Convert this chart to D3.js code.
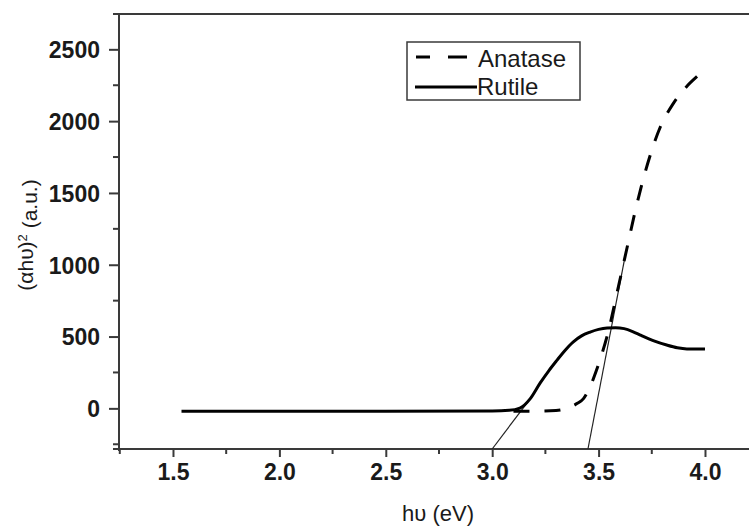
<!DOCTYPE html>
<html>
<head>
<meta charset="utf-8">
<script src="https://cdn.jsdelivr.net/npm/d3@7"></script>
<style>
  html, body { margin: 0; padding: 0; background: #fff; }
  svg { display: block; }
  text { font-family: "Liberation Sans", Arial, sans-serif; fill: #1a1a1a; }
</style>
</head>
<body>
<script>
// ---- data ----
const rutile = [
  [1.54,-20],[2.0,-20],[2.5,-20],[3.0,-18],[3.08,-14],[3.13,2],[3.18,70],[3.225,176],
  [3.265,260],[3.305,336],[3.34,400],[3.38,462],[3.42,505],[3.46,531],[3.50,550],
  [3.54,560],[3.58,562],[3.62,555],[3.66,535],[3.70,508],[3.76,470],[3.82,441],
  [3.87,422],[3.915,414],[4.0,413]
];
const anatase = [
  [3.10,-20],[3.20,-20],[3.30,-15],[3.36,5],[3.40,35],[3.43,70],[3.46,150],[3.49,266],
  [3.52,400],[3.55,560],[3.58,760],[3.61,960],[3.64,1160],[3.67,1360],[3.70,1541],
  [3.74,1750],[3.79,1959],[3.85,2120],[3.91,2235],[3.97,2321],[4.0,2360]
];
const rutileTangent = [[3.0,-283],[3.165,40]];
const anataseTangent = [[3.45,-283],[3.63,1100]];
const xMajor = [1.5,2.0,2.5,3.0,3.5,4.0];
const xMinor = [1.25,1.75,2.25,2.75,3.25,3.75];
const yMajor = [0,500,1000,1500,2000,2500];
const yMinor = [-250,250,750,1250,1750,2250];
const legendLabels = ["Anatase","Rutile"];

// ---- layout ----
const W = 749, H = 527;
const mLeft = 119, mBottom = 449, mTop = 14;
const pxPerX = 212.8;
const x = d3.scaleLinear().domain([1.2463, 4.35]).range([mLeft, mLeft + (4.35-1.2463)*pxPerX]);
const y = d3.scaleLinear().domain([-283, 2746]).range([mBottom, mTop]);

const svg = d3.select("body").append("svg").attr("width", W).attr("height", H);
const axisColor = "#3a3a3a";

// frame top
svg.append("line").attr("x1", mLeft-6).attr("x2", W+20).attr("y1", mTop).attr("y2", mTop)
  .attr("stroke", axisColor).attr("stroke-width", 2);

// x axis
const gx = svg.append("g").attr("transform", `translate(0,${mBottom})`);
gx.call(d3.axisBottom(x).tickValues(xMajor).tickFormat(d3.format(".1f")).tickSize(8).tickSizeOuter(0));
gx.select(".domain").remove();
gx.append("line").attr("x1", mLeft-6).attr("x2", W+20).attr("y1", 0).attr("y2", 0)
  .attr("stroke", axisColor).attr("stroke-width", 2);
gx.selectAll(".tick line").attr("stroke", axisColor).attr("stroke-width", 2);
gx.selectAll(".tick text").attr("y", 31).attr("dy", null)
  .style("font-size", "23px").style("font-weight", "bold").attr("fill", "#1a1a1a");
gx.selectAll(".minor").data(xMinor).enter().append("line")
  .attr("x1", d => x(d)).attr("x2", d => x(d)).attr("y1", 0).attr("y2", 5)
  .attr("stroke", axisColor).attr("stroke-width", 2);

// y axis
const gy = svg.append("g").attr("transform", `translate(${mLeft},0)`);
gy.call(d3.axisLeft(y).tickValues(yMajor).tickFormat(d3.format("d")).tickSize(10).tickSizeOuter(0));
gy.select(".domain").remove();
gy.append("line").attr("x1", 0).attr("x2", 0).attr("y1", mTop-1).attr("y2", mBottom+2)
  .attr("stroke", axisColor).attr("stroke-width", 2);
gy.selectAll(".tick line").attr("stroke", axisColor).attr("stroke-width", 2);
gy.selectAll(".tick text").attr("x", -19).attr("dy", "0.36em").attr("text-anchor", "end")
  .style("font-size", "23px").style("font-weight", "bold").attr("fill", "#1a1a1a");
gy.selectAll(".minor").data(yMinor).enter().append("line")
  .attr("x1", -6).attr("x2", 0).attr("y1", d => y(d)).attr("y2", d => y(d))
  .attr("stroke", axisColor).attr("stroke-width", 2);

// axis labels
svg.append("text").attr("x", 438).attr("y", 521).attr("text-anchor", "middle")
  .style("font-size", "22px").text("hυ (eV)");
const yl = svg.append("text").attr("transform", "translate(33,235) rotate(-90)")
  .attr("text-anchor", "middle").style("font-size", "21px");
yl.append("tspan").text("(αhυ)");
yl.append("tspan").attr("dy", "-0.5em").style("font-size", "13px").text("2");
yl.append("tspan").attr("dy", "0.5em").text(" (a.u.)");

// curves
const line = d3.line().x(d => x(d[0])).y(d => y(d[1])).curve(d3.curveMonotoneX);
const straight = d3.line().x(d => x(d[0])).y(d => y(d[1]));

svg.append("path").datum(rutileTangent).attr("d", straight)
  .attr("fill", "none").attr("stroke", "#222").attr("stroke-width", 1.2);
svg.append("path").datum(anataseTangent).attr("d", straight)
  .attr("fill", "none").attr("stroke", "#222").attr("stroke-width", 1.2);

svg.append("path").datum(rutile).attr("d", line)
  .attr("fill", "none").attr("stroke", "#000").attr("stroke-width", 3);
svg.append("path").datum(anatase).attr("d", line)
  .attr("fill", "none").attr("stroke", "#000").attr("stroke-width", 3)
  .attr("stroke-dasharray", "16,15");

// legend
const lg = svg.append("g");
lg.append("rect").attr("x", 407).attr("y", 42).attr("width", 173).attr("height", 58)
  .attr("fill", "#fff").attr("stroke", axisColor).attr("stroke-width", 1.5);
lg.append("line").attr("x1", 416).attr("x2", 467).attr("y1", 57).attr("y2", 57)
  .attr("stroke", "#000").attr("stroke-width", 3).attr("stroke-dasharray", "14,18,19");
lg.append("line").attr("x1", 415).attr("x2", 477).attr("y1", 87).attr("y2", 87)
  .attr("stroke", "#000").attr("stroke-width", 3);
lg.append("text").attr("x", 478).attr("y", 67).style("font-size", "24px").text(legendLabels[0]);
lg.append("text").attr("x", 477).attr("y", 95).style("font-size", "24px").text(legendLabels[1]);
</script>
</body>
</html>
